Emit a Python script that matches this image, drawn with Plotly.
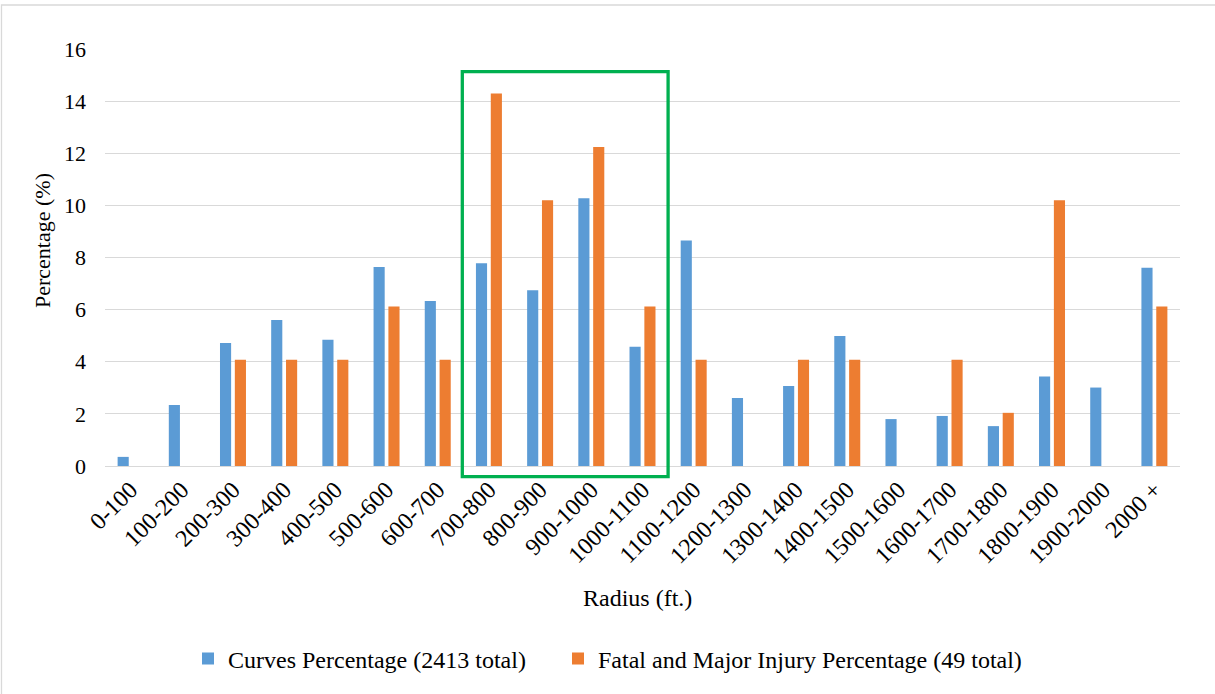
import plotly.graph_objects as go

categories = ["0-100", "100-200", "200-300", "300-400", "400-500", "500-600", "600-700",
              "700-800", "800-900", "900-1000", "1000-1100", "1100-1200", "1200-1300",
              "1300-1400", "1400-1500", "1500-1600", "1600-1700", "1700-1800", "1800-1900",
              "1900-2000", "2000 +"]
curves_pct = [0.35, 2.34, 4.72, 5.60, 4.84, 7.64, 6.33, 7.78, 6.74, 10.27, 4.58, 8.65,
              2.61, 3.07, 4.99, 1.80, 1.92, 1.53, 3.43, 3.01, 7.61]
fatal_pct = [0, 0, 4.08, 4.08, 4.08, 6.12, 4.08, 14.29, 10.20, 12.24, 6.12, 4.08,
             0, 4.08, 4.08, 0, 4.08, 2.04, 10.20, 0, 6.12]
y_ticks = [0, 2, 4, 6, 8, 10, 12, 14, 16]
highlight_from, highlight_to = "700-800", "1000-1100"

FONT = "Liberation Serif"
BLUE = "#5B9BD5"
ORANGE = "#ED7D31"
GRID = "#D9D9D9"

W, H = 1215, 694
L, R, T, B = 105, 35, 49, 228
PW, PH = W - L - R, H - T - B


def px_x(p):
    return (p - L) / PW


def px_y(p):
    return (H - B - p) / PH


fig = go.Figure()
fig.add_trace(go.Bar(x=categories, y=curves_pct, name="Curves Percentage (2413 total)",
                     marker=dict(color=BLUE, line=dict(width=0)), legend="legend"))
fig.add_trace(go.Bar(x=categories, y=fatal_pct, name="Fatal and Major Injury Percentage (49 total)",
                     marker=dict(color=ORANGE, line=dict(width=0)), legend="legend2"))

n = len(categories)
i0 = categories.index(highlight_from)
i1 = categories.index(highlight_to)
fig.add_shape(type="rect", xref="x domain", yref="paper",
              x0=(i0 - 0.02) / n, x1=(i1 + 1.0) / n,
              y0=-0.41 / 16, y1=15.13 / 16,
              line=dict(color="#00B050", width=3.3), fillcolor="rgba(0,0,0,0)", layer="above")

# outer chart border
fig.add_shape(type="rect", xref="paper", yref="paper",
              x0=px_x(1.5), x1=px_x(1220), y0=px_y(700), y1=px_y(5),
              line=dict(color="#D9D9D9", width=1.3), fillcolor="rgba(0,0,0,0)", layer="below")

fig.add_annotation(text="Percentage (%)", xref="paper", yref="paper", x=px_x(42), y=px_y(241),
                   xanchor="center", yanchor="middle",
                   textangle=-90, showarrow=False, font=dict(family=FONT, size=22, color="black"))
fig.add_annotation(text="Radius (ft.)", xref="paper", yref="paper", x=px_x(637), y=px_y(598),
                   xanchor="center", yanchor="middle",
                   showarrow=False, font=dict(family=FONT, size=24, color="black"))

legend_common = dict(orientation="h", xanchor="left", yanchor="middle", y=px_y(659),
                     font=dict(family=FONT, size=24, color="black"), itemwidth=30,
                     bgcolor="rgba(0,0,0,0)")

fig.update_layout(
    width=W, height=H,
    margin=dict(l=L, r=R, t=T, b=B),
    paper_bgcolor="white", plot_bgcolor="white",
    barmode="group", bargap=0.42, bargroupgap=0.25,
    font=dict(family=FONT, color="black"),
    showlegend=True,
    legend=dict(x=px_x(228 - 40), **legend_common),
    legend2=dict(x=px_x(598 - 40), **legend_common),
)
fig.update_xaxes(type="category", tickangle=-45, showgrid=False, showline=False,
                 tickfont=dict(family=FONT, size=24, color="black"), ticks="",
                 ticklabelstandoff=4)
fig.update_yaxes(range=[0, 16], tickvals=y_ticks, showgrid=True, gridcolor=GRID, gridwidth=1.3,
                 zeroline=True, zerolinecolor=GRID, zerolinewidth=1.3, showline=False, ticks="",
                 tickfont=dict(family=FONT, size=22, color="black"), ticklabelstandoff=18)

fig.write_html("out.html", config={"displayModeBar": False},
               post_script="document.body.style.margin='0';")
